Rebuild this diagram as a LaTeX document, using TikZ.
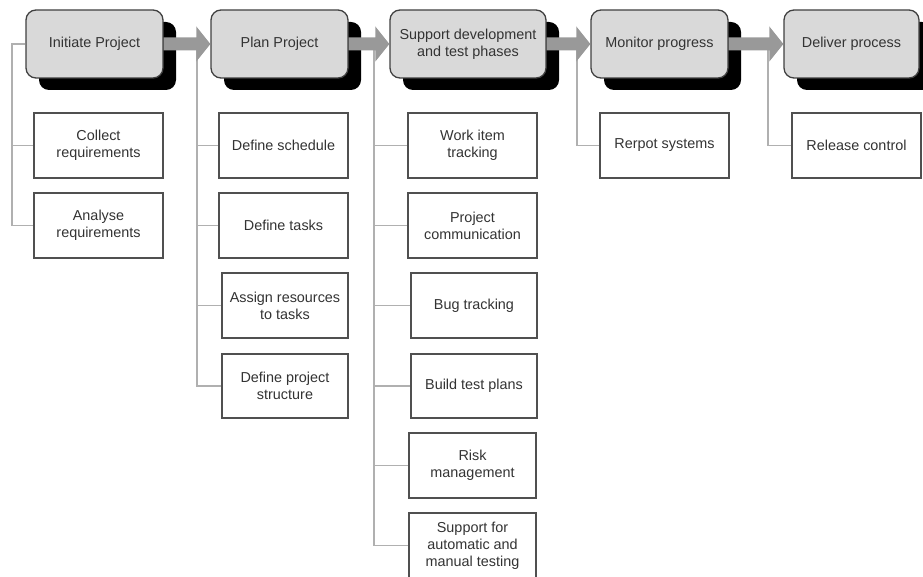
\documentclass[tikz,border=0pt]{standalone}
\usepackage{fontspec}
\setmainfont{Liberation Sans}
\usetikzlibrary{shadows,calc}
\definecolor{txt}{HTML}{333333}
\definecolor{phasefill}{HTML}{D9D9D9}
\definecolor{phaseedge}{HTML}{404040}
\definecolor{boxedge}{HTML}{505050}
\definecolor{linec}{HTML}{B0B0B0}
\definecolor{arrowc}{HTML}{999999}
\begin{document}
\begin{tikzpicture}[x=1pt,y=-1pt,
  phase/.style={draw=phaseedge, line width=1.3pt, fill=phasefill, rounded corners=10pt,
    align=center, text=txt, font=\fontsize{14.4}{17}\selectfont, inner sep=0pt,
    minimum height=68pt,
    drop shadow={shadow xshift=13pt, shadow yshift=-12pt, fill=black, opacity=1}},
  task/.style={draw=boxedge, line width=1.2pt, fill=white, align=center, text=txt,
    font=\fontsize{14.4}{17}\selectfont, inner sep=0pt, minimum height=65pt},
  link/.style={draw=linec, line width=1.2pt},
  flow/.style={fill=arrowc}
]
\useasboundingbox (0,0) rectangle (923,577);

% phases
\node[phase, minimum width=137pt] (p1) at (94.5,44) {Initiate Project};
\node[phase, minimum width=137pt] (p2) at (279.5,44) {Plan Project};
\node[phase, minimum width=156pt] (p3) at (468,44) {Support development\\and test phases};
\node[phase, minimum width=137pt] (p4) at (659.5,44) {Monitor progress};
\node[phase, minimum width=135pt] (p5) at (851.5,44) {Deliver process};

% tasks column 1
\node[task, minimum width=129pt] (col) at (98.5,145.5) {Collect\\requirements};
\node[task, minimum width=129pt] (ana) at (98.5,225.5) {Analyse\\requirements};
% column 2
\node[task, minimum width=129pt] (sched) at (283.5,145.5) {Define schedule};
\node[task, minimum width=129pt] (tasks) at (283.5,225.5) {Define tasks};
\node[task, minimum width=126pt] (assign) at (285,305.5) {Assign resources\\to tasks};
\node[task, minimum width=126pt, minimum height=64pt] (struct) at (285,386) {Define project\\structure};
% column 3
\node[task, minimum width=129pt] (work) at (472.5,145.5) {Work item\\tracking};
\node[task, minimum width=129pt] (comm) at (472.5,225.5) {Project\\communication};
\node[task, minimum width=126pt] (bug) at (474,305.5) {Bug tracking};
\node[task, minimum width=126pt, minimum height=64pt] (build) at (474,386) {Build test plans};
\node[task, minimum width=127pt] (risk) at (472.5,465.5) {Risk\\management};
\node[task, minimum width=127pt] (supp) at (472.5,545.5) {Support for\\automatic and\\manual testing};
% column 4 and 5
\node[task, minimum width=129pt] (rep) at (664.5,145.5) {Rerpot systems};
\node[task, minimum width=129pt] (rel) at (856.5,145.5) {Release control};

% connector trunks
\coordinate (c1top) at (12,44);
\coordinate (c2top) at (197,44);
\coordinate (c3top) at (374,44);
\coordinate (c4top) at (577,44);
\coordinate (c5top) at (768,44);

\draw[link] (p1.west) -- (c1top) |- (ana.west);
\draw[link] (c1top) |- (col.west);

\draw[link] (c2top) |- (struct.west);
\draw[link] (c2top) |- (sched.west);
\draw[link] (c2top) |- (tasks.west);
\draw[link] (c2top) |- (assign.west);

\draw[link] (c3top) |- (supp.west);
\draw[link] (c3top) |- (work.west);
\draw[link] (c3top) |- (comm.west);
\draw[link] (c3top) |- (bug.west);
\draw[link] (c3top) |- (build.west);
\draw[link] (c3top) |- (risk.west);

\draw[link] (c4top) |- (rep.west);
\draw[link] (c5top) |- (rel.west);

% flow arrows
\foreach \a/\b in {p1/p2,p2/p3,p3/p4,p4/p5}{
  \fill[flow] let \p1=(\a.east), \p2=(\b.west) in
    (\x1,\y1+6.5pt) -- (\x2-14pt,\y1+6.5pt) -- (\x2-14pt,\y1+17.5pt) -- (\x2,\y1)
    -- (\x2-14pt,\y1-17.5pt) -- (\x2-14pt,\y1-6.5pt) -- (\x1,\y1-6.5pt) -- cycle;
}
\end{tikzpicture}
\end{document}
